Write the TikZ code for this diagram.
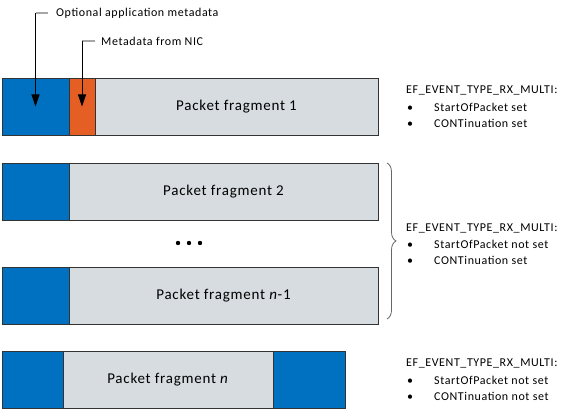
\documentclass[tikz,border=0pt]{standalone}
\usepackage{fontspec}
\setmainfont{Carlito}[LetterSpace=5]
\usetikzlibrary{arrows.meta,decorations.pathreplacing}
\definecolor{appblue}{RGB}{0,112,192}
\definecolor{nicorange}{RGB}{229,94,36}
\definecolor{fraggray}{RGB}{214,220,224}
\tikzset{
  part/.style={draw=black!80, line width=0.8pt, inner sep=0pt, minimum height=57pt},
  appmeta/.style={part, fill=appblue},
  nicmeta/.style={part, fill=nicorange},
  frag/.style={part, fill=fraggray, font=\fontsize{15}{17}\selectfont},
  note/.style={anchor=west, inner sep=0pt, font=\fontsize{12}{14}\selectfont},
  leader/.style={gray!70, line width=1.2pt},
  pointer/.style={black, line width=0.8pt, -{Triangle[length=12pt,width=8pt]}}
}
\begin{document}
\begin{tikzpicture}[x=1pt,y=-1pt]
    \useasboundingbox (0,0) rectangle (573,411);
    % fragment 1
    \node[appmeta, minimum width=67pt] (a1) at (35.5,106.5) {};
    \node[nicmeta, minimum width=26pt] (m1) at (82,106.5) {};
    \node[frag, minimum width=283pt] (f1) at (236.5,106.5) {Packet fragment 1};
    % fragment 2
    \node[appmeta, minimum width=67pt] (a2) at (35.5,191.5) {};
    \node[frag, minimum width=309pt] (f2) at (223.5,191.5) {Packet fragment 2};
    % dots
    \foreach \x in {178,189,200}
        \fill (\x,243) circle (2.2);
    % fragment n-1
    \node[appmeta, minimum width=67pt] (a3) at (35.5,295.5) {};
    \node[frag, minimum width=309pt] (f3) at (223.5,295.5) {Packet fragment \textit{n}-1};
    % fragment n
    \node[appmeta, minimum width=61pt] (a4) at (32.5,380) {};
    \node[frag, minimum width=210pt] (f4) at (168,380) {Packet fragment \textit{n}};
    \node[appmeta, minimum width=72pt] (a5) at (309,380) {};

    % callouts
    \node[note] (optapp) at (56,13) {Optional application metadata};
    \node[note] (fromnic) at (101,41) {Metadata from NIC};
    \coordinate (k1) at (35.5,13);
    \coordinate (k2) at (82,41);
    \draw[leader] (k1) -- ([xshift=-8pt]optapp.west);
    \draw[leader] (k2) -- ([xshift=-6pt]fromnic.west);
    \draw[pointer] (k1) -- (a1.center);
    \draw[pointer] (k2) -- (m1.center);

    % event flags
    \node[note] (ev1) at (406,90) {EF\_EVENT\_TYPE\_RX\_MULTI:};
    \node[note] (ev1a) at (407,107) {\textbullet\hspace{21pt}StartOfPacket set};
    \node[note] (ev1b) at (407,123) {\textbullet\hspace{21pt}CONTinuation set};

    \node[note] (ev2) at (406,228) {EF\_EVENT\_TYPE\_RX\_MULTI:};
    \node[note] (ev2a) at (407,244) {\textbullet\hspace{21pt}StartOfPacket not set};
    \node[note] (ev2b) at (407,260) {\textbullet\hspace{21pt}CONTinuation set};

    \node[note] (ev3) at (406,363) {EF\_EVENT\_TYPE\_RX\_MULTI:};
    \node[note] (ev3a) at (407,380) {\textbullet\hspace{21pt}StartOfPacket not set};
    \node[note] (ev3b) at (407,396) {\textbullet\hspace{21pt}CONTinuation not set};

    % brace over fragments 2 .. n-1
    \draw[gray!80!black, line width=0.8pt, decorate,
          decoration={brace, amplitude=9pt}] (387,163) -- (387,319);
\end{tikzpicture}
\end{document}
